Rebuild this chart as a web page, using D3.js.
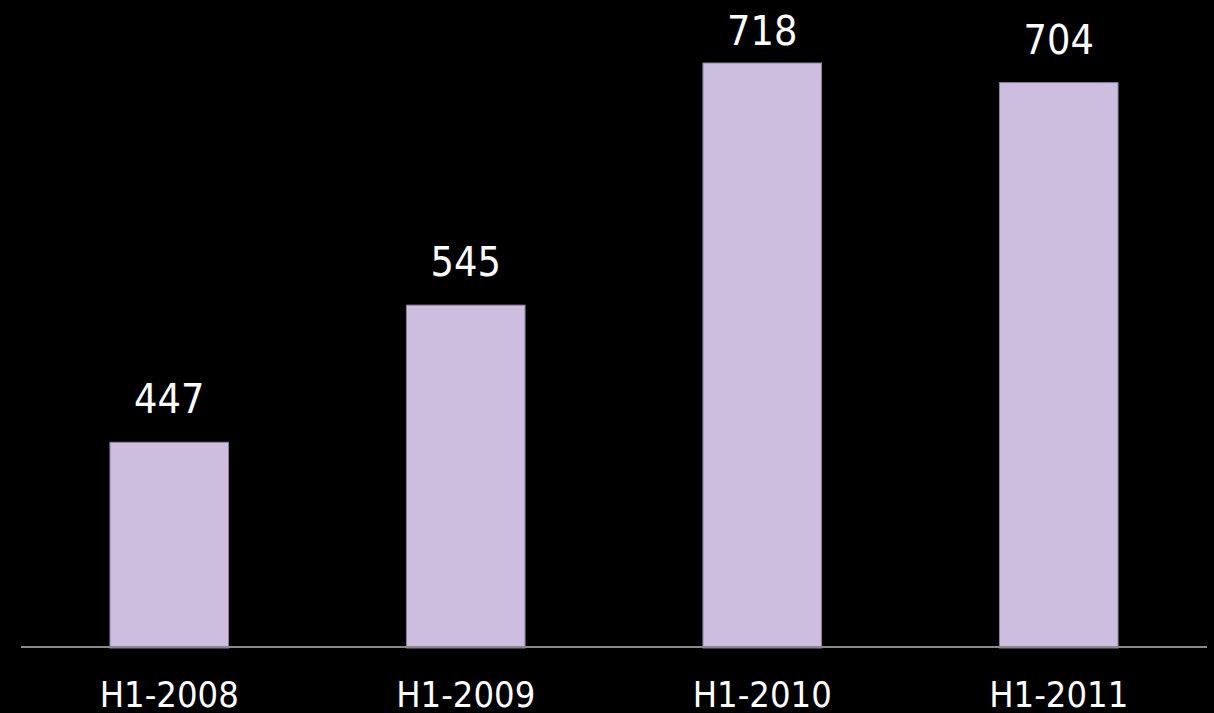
<!DOCTYPE html>
<html>
<head>
<meta charset="utf-8">
<script src="https://cdn.jsdelivr.net/npm/d3@7"></script>
<style>
html,body{margin:0;padding:0;background:#000;}
svg{display:block;}
</style>
</head>
<body>
<svg id="chart" width="1214" height="713"></svg>
<script>
const categories = ["H1-2008", "H1-2009", "H1-2010", "H1-2011"];
const values = [447, 545, 718, 704];
const yDomain = [300, 718];

const svg = d3.select("#chart");
const W = 1214, H = 713;
svg.append("rect").attr("width", W).attr("height", H).attr("fill", "#000");

const x = d3.scaleBand().domain(categories).range([21, 1207]).paddingInner(0.6).paddingOuter(0.3);
const y = d3.scaleLinear().domain(yDomain).range([648, 63]);

const font = "'DejaVu Sans Condensed', 'DejaVu Sans', sans-serif";

svg.selectAll("rect.bar").data(values).join("rect")
  .attr("class", "bar")
  .attr("x", (d, i) => x(categories[i]))
  .attr("width", x.bandwidth())
  .attr("y", d => y(d))
  .attr("height", d => y(yDomain[0]) - y(d))
  .attr("fill", "#CDBDDF")
  .attr("stroke", "#8c8299")
  .attr("stroke-width", 1);

// baseline axis
const axis = d3.axisBottom(x).tickSize(0).tickPadding(0);
const g = svg.append("g").attr("transform", `translate(0,${y(yDomain[0]) - 1})`).call(axis);
g.select(".domain").attr("stroke", "#8a8a8a").attr("stroke-width", 2).attr("d", "M21,0H1207");
g.selectAll(".tick text")
  .attr("y", 60)
  .attr("dy", 0)
  .attr("fill", "#fff")
  .style("font-family", font)
  .style("font-size", "36px");

svg.selectAll("text.val").data(values).join("text")
  .attr("class", "val")
  .attr("x", (d, i) => x(categories[i]) + x.bandwidth() / 2)
  .attr("y", d => Math.max(45, y(d) - 29))
  .attr("text-anchor", "middle")
  .attr("fill", "#fff")
  .style("font-family", font)
  .style("font-size", "41px")
  .text(d => d);
</script>
</body>
</html>
